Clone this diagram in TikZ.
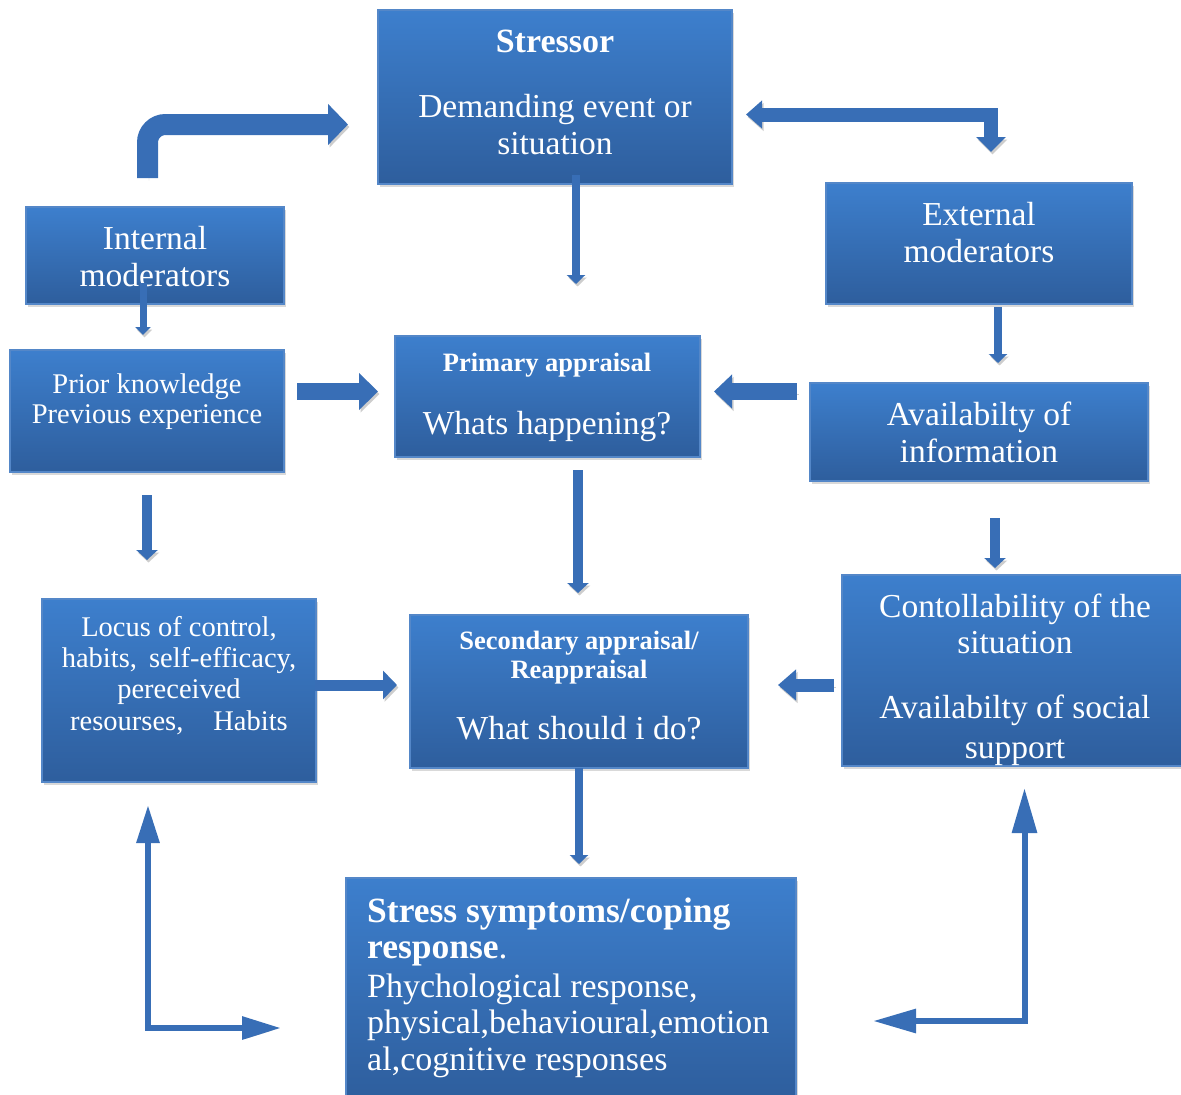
\documentclass[tikz,border=0pt]{standalone}
\usepackage{fontspec}
\setmainfont{Liberation Serif}
\usetikzlibrary{arrows.meta,shadows,calc}
\definecolor{boxtop}{RGB}{61,127,205}
\definecolor{boxbot}{RGB}{46,94,157}
\definecolor{boxedge}{RGB}{84,135,200}
\definecolor{arrowc}{RGB}{56,110,182}
\definecolor{shadowc}{RGB}{205,205,205}
\tikzset{
  box/.style={draw=boxedge, line width=1.5pt, top color=boxtop, bottom color=boxbot,
    anchor=north west, inner sep=0pt, outer sep=0pt,
    drop shadow={shadow xshift=2pt, shadow yshift=-3pt, opacity=0.3}},
  ln/.style={text=white, inner sep=0pt, anchor=base, font=\fontsize{33.5}{38}\selectfont},
  lnb/.style={ln, font=\fontsize{34}{38}\selectfont\bfseries},
  lnl/.style={ln, anchor=base west, font=\fontsize{34}{38}\selectfont},
  lnlb/.style={ln, anchor=base west, font=\fontsize{35.5}{38}\selectfont\bfseries},
  lns/.style={ln, font=\fontsize{28.5}{31}\selectfont},
  lnsb/.style={ln, font=\fontsize{26.5}{30}\selectfont\bfseries},
  conn/.style={draw=arrowc, line cap=butt, line join=miter,
    preaction={draw=shadowc, transform canvas={shift={(1.5pt,-2.5pt)}}}},
  thinarr/.style={conn, line width=8pt, -{Triangle[width=18pt,length=9pt]}},
  midarr/.style={conn, line width=10pt, -{Triangle[width=21pt,length=10pt]}},
}
\begin{document}
\begin{tikzpicture}[x=1pt,y=-1pt]
\useasboundingbox (0,0) rectangle (1181,1095);

% boxes
\node[box, minimum width=354pt, minimum height=174pt] (stressor) at (378,10) {};
\node[box, minimum width=258pt, minimum height=97pt]  (internal) at (26,207) {};
\node[box, minimum width=306pt, minimum height=121pt] (external) at (826,183) {};
\node[box, minimum width=274pt, minimum height=122pt] (prior)    at (10,350) {};
\node[box, minimum width=305pt, minimum height=121pt] (primary)  at (395,336) {};
\node[box, minimum width=338pt, minimum height=98pt]  (avail)    at (810,383) {};
\node[box, minimum width=274pt, minimum height=183pt] (locus)    at (42,599) {};
\node[box, minimum width=338pt, minimum height=153pt] (secondary) at (410,615) {};
\node[box, minimum width=340pt, minimum height=191pt] (control)  at (842,575) {};
\node[box, minimum width=450pt, minimum height=222pt] (stress)   at (346,878) {};

% texts
\node[lnb] (t1a) at (555,52) {Stressor};
\node[ln]  (t1b) at (555,117) {Demanding event or};
\node[ln]  (t1c) at (555,154) {situation};

\node[ln] (t2a) at (155,249) {Internal};
\node[ln] (t2b) at (155,286) {moderators};

\node[ln] (t3a) at (979,225) {External};
\node[ln] (t3b) at (979,262) {moderators};

\node[lns] (t4a) at (147,393) {Prior knowledge};
\node[lns] (t4b) at (147,423) {Previous experience};

\node[lnsb] (t5a) at (547,371) {Primary appraisal};
\node[ln]   (t5b) at (547,434) {Whats happening?};

\node[ln] (t6a) at (979,425) {Availabilty of};
\node[ln] (t6b) at (979,462) {information};

\node[lns] (t7a) at (179,636) {Locus of control,};
\node[lns] (t7b) at (179,667) {habits,\hspace{12pt}self-efficacy,};
\node[lns] (t7c) at (179,698) {pereceived};
\node[lns] (t7d) at (179,730) {resourses,\hspace{30pt}Habits};

\node[lnsb] (t8a) at (579,649) {Secondary appraisal/};
\node[lnsb] (t8b) at (579,678) {Reappraisal};
\node[ln]   (t8c) at (579,739) {What should i do?};

\begin{scope}
\clip (control.south west) rectangle (control.north east);
\node[ln] (t9a) at (1015,617) {Contollability of the};
\node[ln] (t9b) at (1015,653) {situation};
\node[ln] (t9c) at (1015,718) {Availabilty of social};
\node[ln] (t9d) at (1015,758) {support};
\end{scope}

\node[lnlb] (t10a) at (367,922) {Stress symptoms/coping};
\node[lnlb] (t10b) at (367,958) {response\textmd{.}};
\node[lnl]  (t10c) at (367,997) {Phychological response,};
\node[lnl]  (t10d) at (367,1033) {physical,behavioural,emotion};
\node[lnl]  (t10e) at (367,1070) {al,cognitive responses};

% connectors
\draw[conn, line width=21pt, rounded corners=18pt, -{Triangle[width=40pt,length=20pt]}]
  ([xshift=-7.5pt,yshift=29pt]internal.north) |- ([xshift=-30pt,yshift=-27.5pt]stressor.west);
\draw[conn, line width=14pt, {Triangle[width=27pt,length=16pt]}-{Triangle[width=29pt,length=15pt]}]
  ([xshift=14pt,yshift=-17.5pt]stressor.east) -| ([xshift=12pt,yshift=31pt]external.north);
\draw[thinarr] ([xshift=21pt,yshift=9pt]stressor.south) -- ([xshift=28.5pt,yshift=52pt]primary.north);
\draw[conn, line width=7pt, -{Triangle[width=15pt,length=8pt]}]
  ([xshift=-12pt,yshift=21pt]internal.south) -- ([xshift=-4pt,yshift=15pt]prior.north);
\draw[thinarr] ([xshift=19pt,yshift=-3pt]external.south) -- ([xshift=19pt,yshift=20pt]avail.north);
\draw[conn, line width=17pt, -{Triangle[width=36pt,length=19pt]}]
  ([xshift=13pt,yshift=19.5pt]prior.east) -- ([xshift=-17pt,yshift=5pt]primary.west);
\draw[conn, line width=17pt, -{Triangle[width=33pt,length=18pt]}]
  ([xshift=-13pt,yshift=40.5pt]avail.west) -- ([xshift=14pt,yshift=5pt]primary.east);
\draw[midarr] ([yshift=-23pt]prior.south) -- ([xshift=-32pt,yshift=39pt]locus.north);
\draw[midarr] ([xshift=30.5pt,yshift=-13pt]primary.south) -- ([xshift=-1pt,yshift=22pt]secondary.north);
\draw[midarr] ([xshift=16pt,yshift=-37pt]avail.south) -- ([xshift=-17pt,yshift=7pt]control.north);
\draw[conn, line width=11pt, -{Triangle[width=28pt,length=14pt]}]
  ([xshift=-1pt,yshift=5.5pt]locus.east) -- ([xshift=-13pt,yshift=6.5pt]secondary.west);
\draw[conn, line width=13pt, -{Triangle[width=30pt,length=18pt]}]
  ([xshift=-8pt,yshift=-14.5pt]control.west) -- ([xshift=30pt,yshift=6.5pt]secondary.east);
\draw[thinarr] (secondary.south) -- ([xshift=8pt,yshift=14pt]stress.north);
\draw[conn, line width=6pt, {Triangle[width=22pt,length=38pt]}-{Triangle[width=22pt,length=39pt]}]
  ([xshift=-31pt,yshift=-23pt]locus.south) |- ([xshift=-65pt,yshift=-39pt]stress.west);
\draw[conn, line width=6pt, {Triangle[width=24pt,length=45pt]}-{Triangle[width=23pt,length=43pt]}]
  ([xshift=12.5pt,yshift=-22pt]control.south) |- ([xshift=77pt,yshift=-32pt]stress.east);
\end{tikzpicture}
\end{document}
